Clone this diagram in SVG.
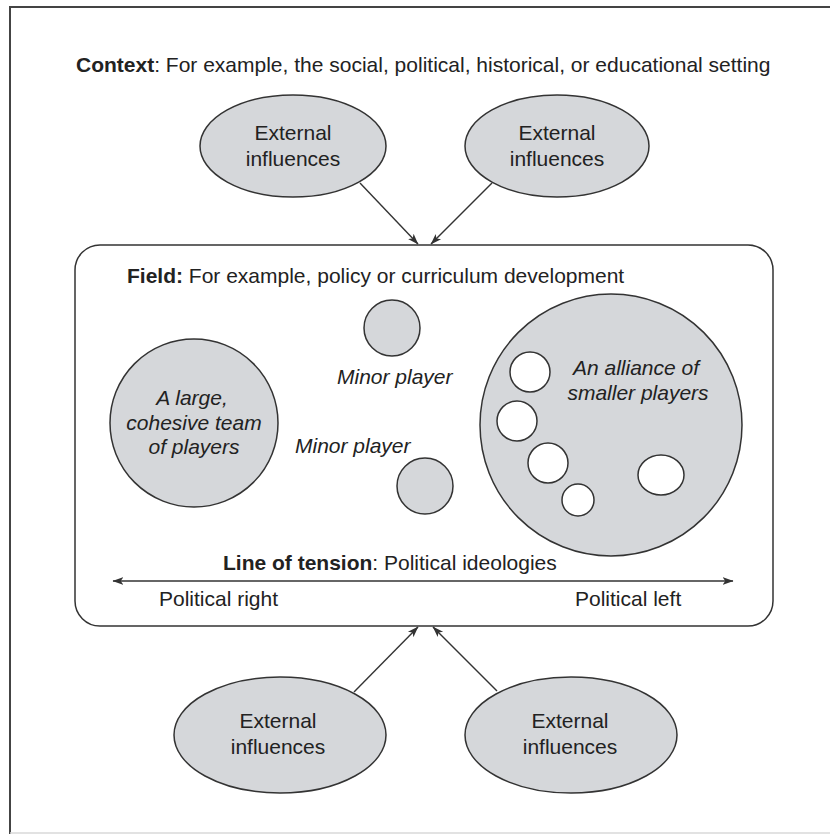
<svg xmlns="http://www.w3.org/2000/svg" width="830" height="836" viewBox="0 0 830 836">
<defs>
<style>
.t{font-family:"Liberation Sans",Arial,Helvetica,sans-serif;fill:#222;font-size:21px;}
.i{font-style:italic;}
.b{font-weight:bold;}
.m{text-anchor:middle;}
.g{fill:#d5d7da;stroke:#333;stroke-width:1.5;}
.w{fill:#fff;stroke:#333;stroke-width:1.5;}
.c{stroke:#333;stroke-width:1.4;fill:none;}
</style>
<marker id="ah" viewBox="0 0 10 10" refX="9.5" refY="5" markerWidth="11" markerHeight="11" orient="auto-start-reverse" markerUnits="userSpaceOnUse">
<path d="M0,1.5 L10,5 L0,8.5 L2.5,5 Z" fill="#333"/>
</marker>
</defs>
<rect x="0" y="0" width="830" height="836" fill="#fff"/>
<path id="frame" d="M10,834 V7 H830" fill="none" stroke="#444" stroke-width="2"/>
<line x1="10" y1="833" x2="830" y2="833" stroke="#d8d8d8" stroke-width="1.5"/>
<text class="t" x="76" y="72"><tspan class="b">Context</tspan>: For example, the social, political, historical, or educational setting</text>

<g id="field">
<rect x="75" y="245" width="698" height="381" rx="25" ry="25" fill="#fff" stroke="#333" stroke-width="1.5"/>
<text class="t" x="127" y="283"><tspan class="b">Field:</tspan> For example, policy or curriculum development</text>
</g>

<g id="ext-top-left">
<ellipse class="g" cx="293" cy="146" rx="93" ry="51"/>
<text class="t m" x="293" y="140">External</text>
<text class="t m" x="293" y="166">influences</text>
</g>
<g id="ext-top-right">
<ellipse class="g" cx="557" cy="146" rx="92" ry="51"/>
<text class="t m" x="557" y="140">External</text>
<text class="t m" x="557" y="166">influences</text>
</g>
<g id="ext-bottom-left">
<ellipse class="g" cx="280" cy="735" rx="106" ry="58"/>
<text class="t m" x="278" y="728">External</text>
<text class="t m" x="278" y="754">influences</text>
</g>
<g id="ext-bottom-right">
<ellipse class="g" cx="571" cy="735" rx="106" ry="58"/>
<text class="t m" x="570" y="728">External</text>
<text class="t m" x="570" y="754">influences</text>
</g>

<g id="large-team">
<circle class="g" cx="194" cy="423" r="84"/>
<text class="t i m" x="192" y="405">A large,</text>
<text class="t i m" x="194" y="430">cohesive team</text>
<text class="t i m" x="194" y="454">of players</text>
</g>
<g id="minor-1">
<circle class="g" cx="392" cy="328" r="28"/>
<text class="t i" x="337" y="384">Minor player</text>
</g>
<g id="minor-2">
<circle class="g" cx="425" cy="486" r="28"/>
<text class="t i" x="295" y="453">Minor player</text>
</g>
<g id="alliance">
<circle class="g" cx="611" cy="425" r="131"/>
<text class="t i m" x="636" y="375">An alliance of</text>
<text class="t i m" x="638" y="400">smaller players</text>
<circle class="w" cx="530" cy="372" r="20"/>
<circle class="w" cx="517" cy="421" r="20"/>
<circle class="w" cx="548" cy="463" r="20"/>
<circle class="w" cx="578" cy="500" r="16"/>
<ellipse class="w" cx="661" cy="475" rx="23" ry="20"/>
</g>

<g id="tension">
<text class="t" x="223" y="570"><tspan class="b">Line of tension</tspan>: Political ideologies</text>
<text class="t" x="159" y="606">Political right</text>
<text class="t" x="575" y="606">Political left</text>
</g>

<g id="connectors">
<line class="c" x1="113" y1="581" x2="733" y2="581" marker-start="url(#ah)" marker-end="url(#ah)"/>
<line class="c" x1="360" y1="183" x2="418" y2="244" marker-end="url(#ah)"/>
<line class="c" x1="492" y1="183" x2="431" y2="244" marker-end="url(#ah)"/>
<line class="c" x1="354" y1="692" x2="418" y2="627" marker-end="url(#ah)"/>
<line class="c" x1="497" y1="691" x2="433" y2="627" marker-end="url(#ah)"/>
</g>
</svg>
